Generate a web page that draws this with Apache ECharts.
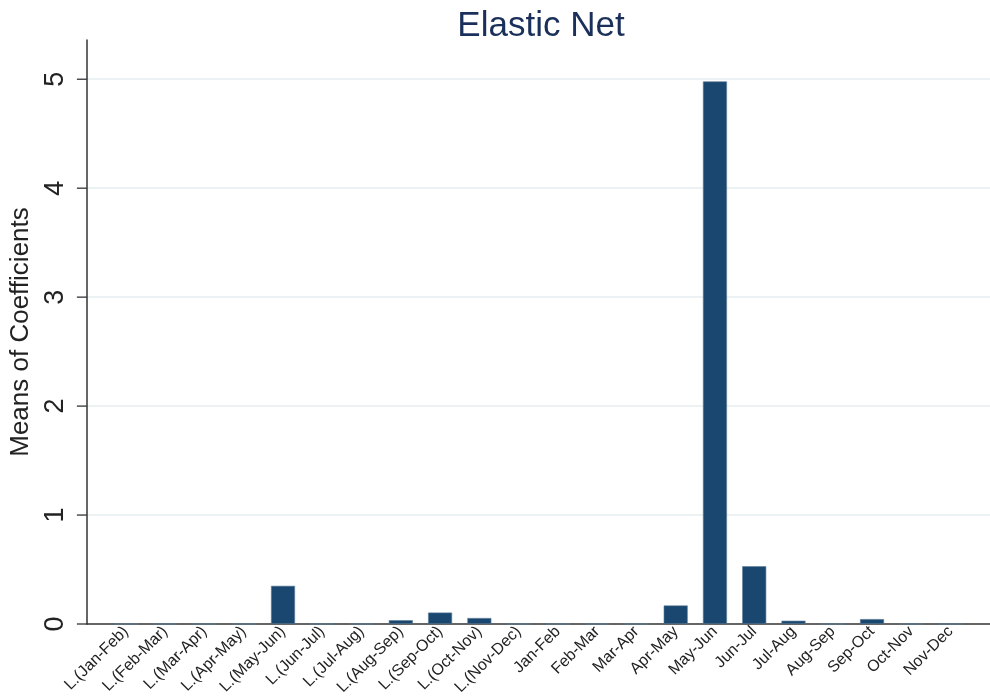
<!DOCTYPE html>
<html><head><meta charset="utf-8">
<script src="https://cdn.jsdelivr.net/npm/echarts@6/dist/echarts.min.js"></script>
<style>html,body{margin:0;padding:0;background:#fff}#c{width:990px;height:700px}</style>
</head><body><div id="c"></div>
<script>
const categories = ['L.(Jan-Feb)','L.(Feb-Mar)','L.(Mar-Apr)','L.(Apr-May)','L.(May-Jun)','L.(Jun-Jul)','L.(Jul-Aug)','L.(Aug-Sep)','L.(Sep-Oct)','L.(Oct-Nov)','L.(Nov-Dec)','Jan-Feb','Feb-Mar','Mar-Apr','Apr-May','May-Jun','Jun-Jul','Jul-Aug','Aug-Sep','Sep-Oct','Oct-Nov','Nov-Dec'];
const values = [0,0,0,0,0.35,0,0,0.035,0.105,0.055,0,0,0,0,0.17,4.98,0.53,0.03,0,0.045,0,0];
const yTicks = [0,1,2,3,4,5];
const yMax = 5.36;

const font = '"Liberation Sans", Arial, Helvetica, sans-serif';
const chart = echarts.init(document.getElementById('c'));
chart.setOption({
  animation: false,
  title: {text: 'Elastic Net', left: 536, top: 4, textAlign: 'center',
    textStyle: {fontFamily: font, fontSize: 35, fontWeight: 'normal', color: '#1a2f5a'}},
  grid: [
    {left: 82, right: 0, top: 40, bottom: 76},
    {left: 106.3, right: 19.8, top: 40, bottom: 76}
  ],
  xAxis: [
    {type: 'category', gridIndex: 0, data: categories,
      axisLine: {show: true, onZero: false, lineStyle: {color: '#333', width: 1.5}},
      axisTick: {show: false}, axisLabel: {show: false}, splitLine: {show: false}},
    {type: 'category', gridIndex: 1, data: categories,
      axisLine: {show: false}, axisTick: {show: false},
      axisLabel: {rotate: 45, interval: 0, margin: 5, fontFamily: font, fontSize: 16, color: '#222'}}
  ],
  yAxis: [
    {type: 'value', gridIndex: 0, min: 0, max: yMax,
      name: 'Means of Coefficients', nameLocation: 'middle', nameGap: 48,
      nameTextStyle: {fontFamily: font, fontSize: 26, color: '#222'},
      axisLine: {show: true, onZero: false, lineStyle: {color: '#333', width: 1.5}},
      axisTick: {show: false},
      axisLabel: {rotate: 90, margin: 18, customValues: yTicks, fontFamily: font, fontSize: 27, color: '#222'},
      splitLine: {show: true, showMinLine: false, showMaxLine: false, lineStyle: {color: '#e6eef1', width: 1.5}}},
    {type: 'value', gridIndex: 1, min: 0, max: yMax, show: false, splitLine: {show: false}}
  ],
  series: [
    {
      type: 'bar', xAxisIndex: 1, yAxisIndex: 1, data: values, barWidth: 24,
      itemStyle: {color: '#1a476f', borderColor: '#5d7c98', borderWidth: 0.6}
    },
    {
      type: 'custom', xAxisIndex: 0, yAxisIndex: 0, clip: false, silent: true, z: 5,
      data: yTicks.map(v => [0, v]),
      encode: {x: 0, y: 1},
      renderItem: function (params, api) {
        const y = api.coord([0, api.value(1)])[1];
        const x = params.coordSys.x;
        return {type: 'line', shape: {x1: x - 10, y1: y, x2: x, y2: y},
          style: {stroke: '#333', lineWidth: 1.3}};
      }
    }
  ]
});
</script></body></html>
